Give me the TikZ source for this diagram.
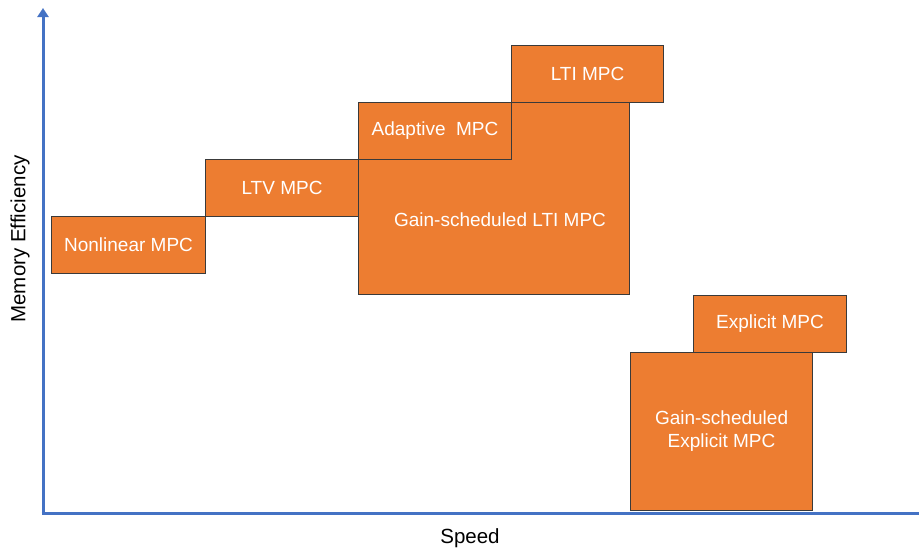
\documentclass[tikz,border=0pt]{standalone}
\usepackage{fontspec}
\setmainfont{Liberation Sans}
\usetikzlibrary{arrows.meta}
\definecolor{boxorange}{HTML}{ED7D31}
\definecolor{axisblue}{HTML}{4472C4}
\definecolor{edgegray}{HTML}{3A3A3A}
\begin{document}
\begin{tikzpicture}[x=1pt,y=-1pt,
  mbox/.style={draw=edgegray, line width=1.1pt, fill=boxorange, text=white,
    inner sep=0pt, anchor=north west, align=center,
    font=\fontsize{19}{23}\selectfont},
  boxlabel/.style={text=white, inner sep=0pt, align=center,
    font=\fontsize{19}{23}\selectfont},
  axlabel/.style={text=black, inner sep=0pt, font=\fontsize{20.5}{24}\selectfont}]
\useasboundingbox (0,0) rectangle (919,550);
% axes
\coordinate (origin) at (43,513);
\coordinate (ytop) at (43,8);
\coordinate (xend) at (919,513);
\draw[axisblue, line width=3pt, -{Triangle[length=9pt,width=11pt]}] (origin) -- (ytop);
\draw[axisblue, line width=3pt] ([xshift=-1.5pt]origin) -- (xend);
\node[axlabel, rotate=90] (ylab) at (20,239) {Memory Efficiency};
\node[axlabel] (xlab) at (470,538) {Speed};
% boxes
\node[mbox, minimum width=154pt, minimum height=57pt] (nl) at (51,216) {Nonlinear MPC};
\node[mbox, minimum width=153pt, minimum height=57pt] (ltv) at (205,159) {LTV MPC};
\node[mbox, minimum width=271pt, minimum height=192pt] (gslti) at (358,102) {};
\node[boxlabel] (gsltitext) at (500,220) {Gain-scheduled LTI MPC};
\node[mbox, minimum width=153pt, minimum height=57pt] (adapt) at (358,102) {Adaptive\ \ MPC};
\node[mbox, minimum width=152pt, minimum height=57pt] (lti) at (511,45) {LTI MPC};
\node[mbox, minimum width=182pt, minimum height=158pt] (gsexp) at (630,352) {Gain-scheduled\\Explicit MPC};
\node[mbox, minimum width=153pt, minimum height=57pt] (exp) at (693,295) {Explicit MPC};
\end{tikzpicture}
\end{document}
